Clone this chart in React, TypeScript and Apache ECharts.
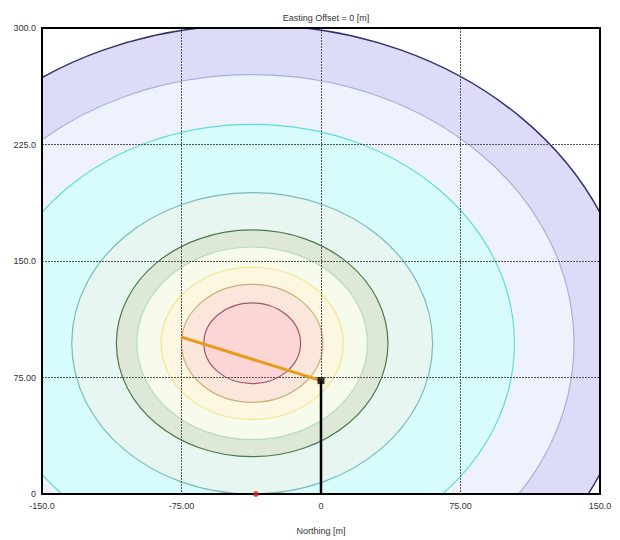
import { useEffect, useRef } from "react";
import * as echarts from "echarts";

const xTickValues = [-150, -75, 0, 75, 150];
const xTickLabels = ["-150.0", "-75.00", "0", "75.00", "150.0"];
const yTickValues = [0, 75, 150, 225, 300];
const yTickLabels = ["0", "75.00", "150.0", "225.0", "300.0"];

const plumeCenter = [-37, 97];
const contourRadii = [205, 173, 141, 97, 73, 62, 49, 38, 26];

const directionLine = [[-75, 101], [0, 73]];
const stackLine = [[0, 0], [0, 73]];
const stackTop = [[0, 73]];
const receptorPoint = [[-35, 0]];

const contourFills = [
  "#dcdcf8",
  "#eef2fc",
  "#d8fcfc",
  "#e8f6f2",
  "#dde8d6",
  "#f6fbec",
  "#fdf6e0",
  "#fbe6dc",
  "#fcd6d6",
];
const contourStrokes = [
  "#33336a",
  "#a8b0d8",
  "#5edcdc",
  "#78bcbc",
  "#4a7a4a",
  "#b8dcb8",
  "#f0e890",
  "#c8b078",
  "#a05868",
];

const FONT = "Liberation Sans, Arial, sans-serif";

export default function App() {
  const ref = useRef<HTMLDivElement>(null);

  useEffect(() => {
    if (!ref.current) return;
    const chart = echarts.init(ref.current, null, { renderer: "svg" });

    const contourData = contourRadii.map((r) => [plumeCenter[0], plumeCenter[1], r]);

    chart.setOption({
      animation: false,
      backgroundColor: "#ffffff",
      title: {
        text: "Easting Offset = 0 [m]",
        left: 321,
        top: 8,
        textAlign: "center",
        textStyle: { fontSize: 9, fontWeight: "normal", color: "#333", fontFamily: FONT },
      },
      grid: {
        left: 42,
        right: 20,
        top: 28,
        bottom: 43,
        show: true,
        borderColor: "#000",
        borderWidth: 2,
        backgroundColor: "transparent",
        z: 3,
      },
      xAxis: {
        type: "value",
        min: -150,
        max: 150,
        interval: 75,
        name: "Northing [m]",
        nameLocation: "middle",
        nameGap: 32,
        nameTextStyle: { fontSize: 9, color: "#333", fontFamily: FONT },
        axisLine: { show: false },
        axisTick: { show: false },
        axisLabel: {
          fontSize: 9,
          color: "#333",
          fontFamily: FONT,
          margin: 7,
          formatter: (v: number) => {
            const i = xTickValues.indexOf(v);
            return i >= 0 ? xTickLabels[i] : "";
          },
        },
        splitLine: { show: true, lineStyle: { color: "#555", type: [2, 1], width: 1 } },
      },
      yAxis: {
        type: "value",
        min: 0,
        max: 300,
        interval: 75,
        axisLine: { show: false },
        axisTick: { show: false },
        axisLabel: {
          fontSize: 9,
          color: "#333",
          fontFamily: FONT,
          margin: 6,
          formatter: (v: number) => {
            const i = yTickValues.indexOf(v);
            return i >= 0 ? yTickLabels[i] : "";
          },
        },
        splitLine: { show: true, lineStyle: { color: "#555", type: [2, 1], width: 1 } },
      },
      series: [
        {
          type: "custom",
          z: -1,
          clip: true,
          silent: true,
          encode: { x: 0, y: 1 },
          data: contourData,
          renderItem: (params: any, api: any) => {
            const i = params.dataIndex;
            const r = api.value(2);
            const c = api.coord([api.value(0), api.value(1)]);
            const rx = api.size([r, 0])[0];
            const ry = api.size([0, r])[1];
            return {
              type: "ellipse",
              shape: { cx: c[0], cy: c[1], rx, ry },
              style: {
                fill: contourFills[i],
                stroke: contourStrokes[i],
                lineWidth: i === 0 ? 1.5 : 1.2,
              },
            };
          },
        },
        {
          type: "line",
          data: stackLine,
          symbol: "none",
          lineStyle: { color: "#000", width: 2.5 },
          z: 4,
        },
        {
          type: "line",
          data: directionLine,
          symbol: "none",
          lineStyle: { color: "#e89a18", width: 3 },
          z: 5,
        },
        {
          type: "scatter",
          data: stackTop,
          symbol: "rect",
          symbolSize: 7,
          itemStyle: { color: "#000" },
          z: 6,
        },
        {
          type: "scatter",
          data: receptorPoint,
          symbol: "circle",
          symbolSize: 6,
          clip: false,
          itemStyle: { color: "#d42020" },
          z: 6,
        },
      ],
    });

    return () => chart.dispose();
  }, []);

  return (
    <div
      ref={ref}
      style={{ position: "fixed", left: 0, top: 0, width: 620, height: 540 }}
    />
  );
}
